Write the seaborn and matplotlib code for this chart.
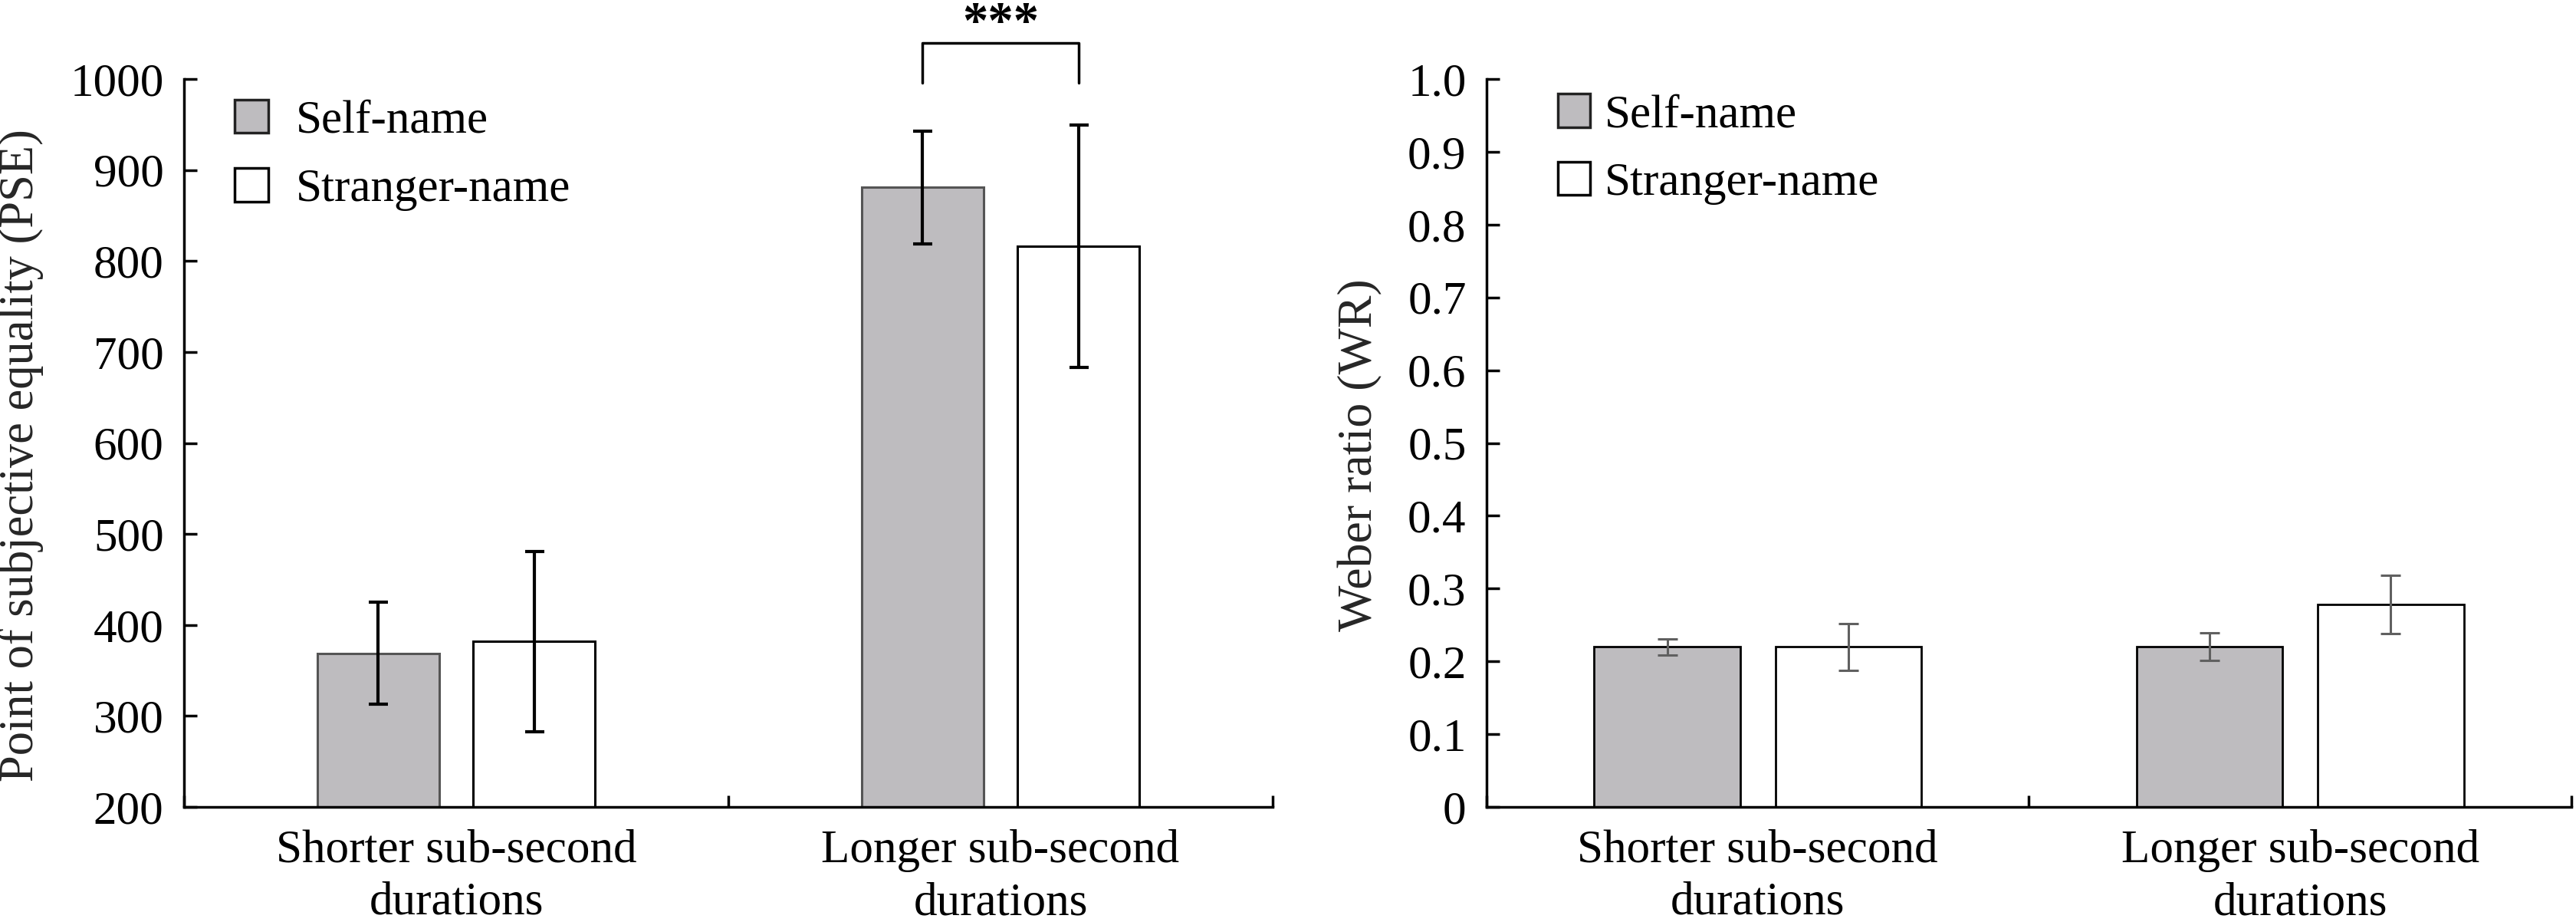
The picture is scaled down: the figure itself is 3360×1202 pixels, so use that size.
import numpy as np
import pandas as pd
import seaborn as sns
import matplotlib.pyplot as plt
from matplotlib.patches import Patch
from matplotlib.ticker import FixedLocator


durations = ["Shorter sub-second\ndurations", "Longer sub-second\ndurations"]
names = ["Self-name", "Stranger-name"]

# point of subjective equality (ms), mean and error
pse_self = [369, 881]
pse_stranger = [382, 816]
pse_err_self = [56, 62]
pse_err_stranger = [99, 133]

# weber ratio, mean and error
wr_self = [0.220, 0.220]
wr_stranger = [0.220, 0.278]
wr_err_self = [0.011, 0.019]
wr_err_stranger = [0.032, 0.040]

pse_ticks = [200, 300, 400, 500, 600, 700, 800, 900, 1000]
wr_ticks = [0, 0.1, 0.2, 0.3, 0.4, 0.5, 0.6, 0.7, 0.8, 0.9, 1.0]
wr_tick_labels = ["0", "0.1", "0.2", "0.3", "0.4", "0.5", "0.6", "0.7", "0.8", "0.9", "1.0"]

GRAY = "#bebcbf"
FS = 44

sns.set_style("ticks")
plt.rcParams["font.family"] = ["Liberation Serif", "DejaVu Serif"]
plt.rcParams["axes.edgecolor"] = "black"
plt.rcParams["xtick.color"] = "black"
plt.rcParams["ytick.color"] = "black"
plt.rcParams["text.color"] = "black"


def make_df(self_vals, stranger_vals):
    rows = []
    for d, v in zip(durations, self_vals):
        rows.append({"duration": d, "name": names[0], "value": v})
    for d, v in zip(durations, stranger_vals):
        rows.append({"duration": d, "name": names[1], "value": v})
    return pd.DataFrame(rows)


def style_axis(ax):
    sns.despine(ax=ax)
    ax.spines["left"].set_linewidth(2.5)
    ax.spines["bottom"].set_linewidth(2.5)
    ax.set_xlim(-0.5, 1.5)
    ax.set_xticks([0, 1])
    ax.set_xticklabels(durations, fontsize=FS, linespacing=1.3)
    ax.tick_params(axis="x", which="major", length=0, pad=21)
    ax.xaxis.set_minor_locator(FixedLocator([-0.5, 0.5, 1.5]))
    ax.tick_params(axis="x", which="minor", direction="in", length=11, width=2.5)
    ax.tick_params(axis="y", direction="in", length=12, width=2.5, pad=19, labelsize=FS)
    ax.set_xlabel("")


def add_errorbars(ax, errs, color, lw, capsize):
    for cont, err in zip(ax.containers, errs):
        xs = [p.get_x() + p.get_width() / 2 for p in cont]
        ys = [p.get_height() for p in cont]
        ax.errorbar(xs, ys, yerr=err, fmt="none", ecolor=color,
                    elinewidth=lw, capsize=capsize, capthick=lw, zorder=5)


fig = plt.figure(figsize=(33.6, 12.02), dpi=100)
ax1 = fig.add_axes([0.07143, 0.12479, 0.42262, 0.78952])
ax2 = fig.add_axes([0.57708, 0.12479, 0.42113, 0.78952])

# left panel: PSE
df_pse = make_df(pse_self, pse_stranger)
sns.barplot(data=df_pse, x="duration", y="value", hue="name", hue_order=names,
            palette=[GRAY, "white"], width=0.572, gap=0.213, errorbar=None,
            legend=False, linewidth=2.2, ax=ax1)
for cont, ec in zip(ax1.containers, ["#555555", "black"]):
    for p in cont:
        p.set_edgecolor(ec)
add_errorbars(ax1, [pse_err_self, pse_err_stranger], "black", 3, 9)
ax1.set_ylim(200, 1000)
ax1.set_yticks(pse_ticks)
style_axis(ax1)
ax1.set_ylabel("Point of subjective equality (PSE)", fontsize=FS + 1)
ax1.yaxis.set_label_coords(-0.129, 0.483)

# significance bracket over the longer durations
b1 = ax1.containers[0][1]
b2 = ax1.containers[1][1]
x1 = b1.get_x() + b1.get_width() / 2
x2 = b2.get_x() + b2.get_width() / 2
ax1.plot([x1, x1, x2, x2], [996, 1040, 1040, 996], color="black", lw=2.5, clip_on=False)
ax1.text((x1 + x2) / 2, 1060, "***", ha="center", va="center", fontsize=FS + 4,
         fontweight="bold", clip_on=False)

leg_handles = [Patch(facecolor=GRAY, edgecolor="#222222", linewidth=2.5),
               Patch(facecolor="white", edgecolor="black", linewidth=2.5)]
ax1.legend(leg_handles, names, loc="upper left", bbox_to_anchor=(0.0465, 0.972),
           frameon=False, fontsize=FS, handlelength=0.72, handleheight=0.72,
           handletextpad=0.59, labelspacing=0.55, borderpad=0, borderaxespad=0)

# right panel: weber ratio
df_wr = make_df(wr_self, wr_stranger)
sns.barplot(data=df_wr, x="duration", y="value", hue="name", hue_order=names,
            palette=[GRAY, "white"], width=0.668, gap=0.195, errorbar=None,
            legend=False, linewidth=2.0, edgecolor="black", ax=ax2)
add_errorbars(ax2, [wr_err_self, wr_err_stranger], "#606060", 2.2, 9.5)
ax2.set_ylim(0, 1.0)
ax2.set_yticks(wr_ticks)
ax2.set_yticklabels(wr_tick_labels)
style_axis(ax2)
ax2.set_ylabel("Weber ratio (WR)", fontsize=FS + 2)
ax2.yaxis.set_label_coords(-0.096, 0.483)

ax2.legend(leg_handles, names, loc="upper left", bbox_to_anchor=(0.0657, 0.980),
           frameon=False, fontsize=FS, handlelength=0.68, handleheight=0.72,
           handletextpad=0.31, labelspacing=0.53, borderpad=0, borderaxespad=0)

fig.savefig("out.png", dpi=100)
